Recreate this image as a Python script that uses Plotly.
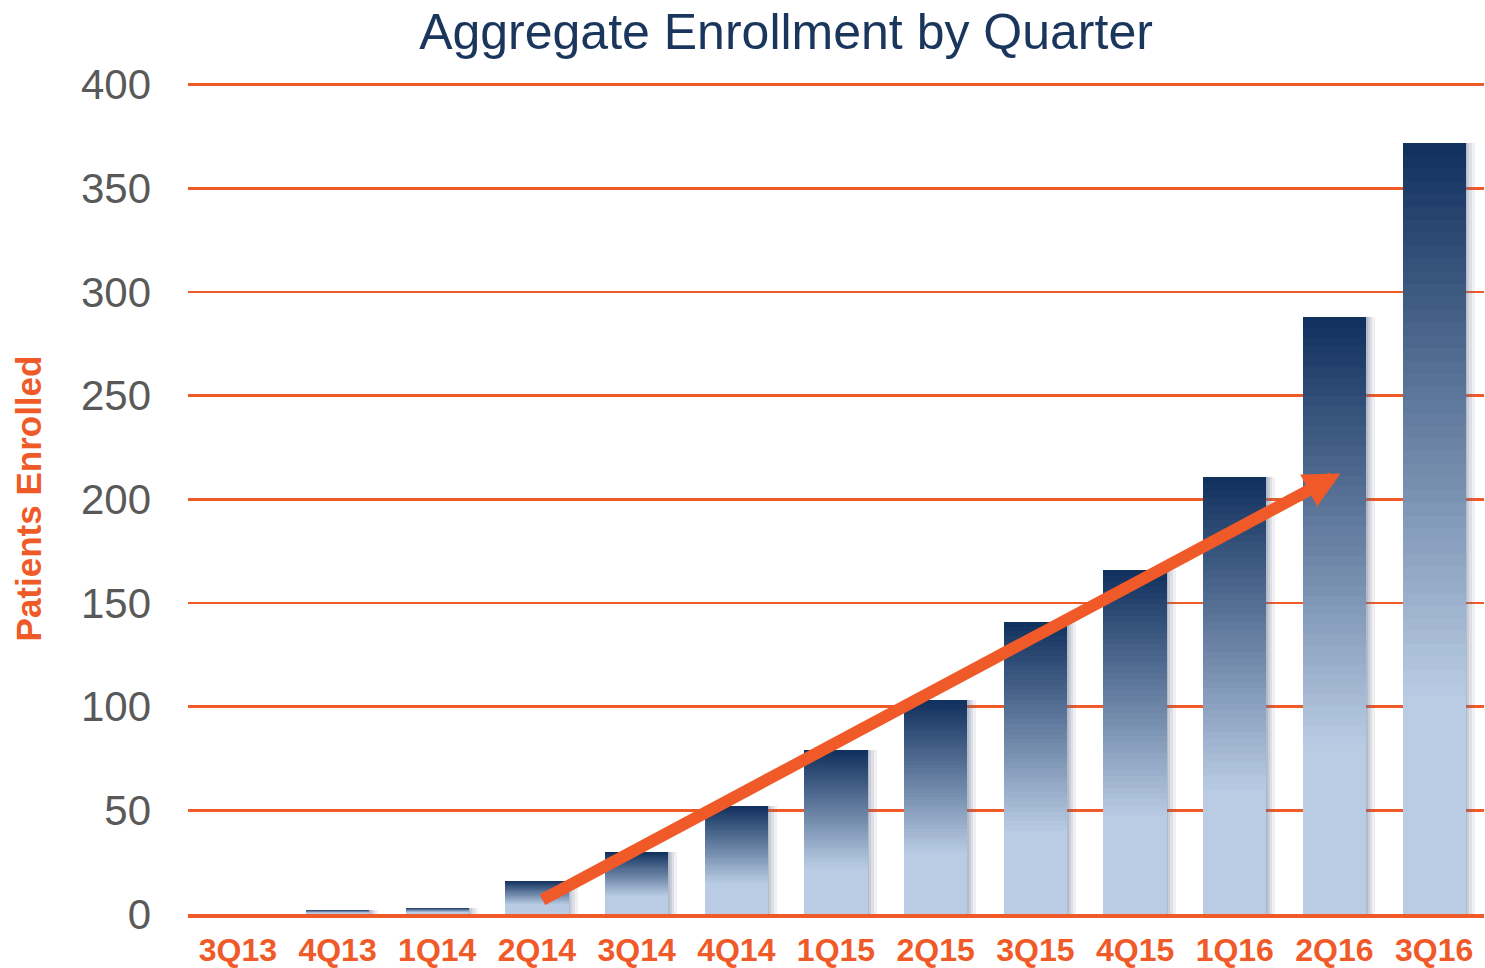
import plotly.graph_objects as go

# ---- data ----
quarters = ["3Q13", "4Q13", "1Q14", "2Q14", "3Q14", "4Q14", "1Q15",
            "2Q15", "3Q15", "4Q15", "1Q16", "2Q16", "3Q16"]
enrolled = [0, 2, 3, 16, 30, 52, 79, 103, 141, 166, 211, 288, 372]
y_ticks = [0, 50, 100, 150, 200, 250, 300, 350, 400]
title_text = "Aggregate Enrollment by Quarter"
y_title = "Patients Enrolled"
# trend arrow (category index, patients)
arrow_tail = (3.04, 6.5)
arrow_tip = (11.06, 212.5)

# ---- style ----
ORANGE = "#f05a28"
NAVY = "#1b365d"
DARK = (15, 47, 92)
LIGHT = (185, 204, 228)
FONT = "Arial, Liberation Sans, Helvetica, sans-serif"
BAR_W = 0.635
N_STEPS = 60


def grad_color(t):
    # t: 0 at bar bottom, 1 at bar top
    s = 0.0 if t < 0.28 else (t - 0.28) / 0.72
    s = min(max(s, 0.0), 1.0)
    c = [round(LIGHT[k] + (DARK[k] - LIGHT[k]) * s) for k in range(3)]
    return f"rgb({c[0]},{c[1]},{c[2]})"


fig = go.Figure()

# soft shadow to the right of each bar
for d, a in [(0.09, 0.10), (0.06, 0.12), (0.035, 0.16), (0.015, 0.2)]:
    fig.add_trace(go.Bar(
        x=quarters, y=enrolled, width=BAR_W, offset=-BAR_W / 2 + d,
        marker=dict(color=f"rgba(95,110,140,{a})", line=dict(width=0)),
        hoverinfo="skip", showlegend=False))

# vertical gradient bars: overlapping slices from each bar's fraction to its top
for i in range(N_STEPS):
    f = i / N_STEPS
    fig.add_trace(go.Bar(
        x=quarters,
        base=[v * f for v in enrolled],
        y=[v * (1 - f) for v in enrolled],
        width=BAR_W,
        marker=dict(color=grad_color((i + 0.5) / N_STEPS), line=dict(width=0)),
        hoverinfo="skip", showlegend=False))

fig.add_annotation(
    x=arrow_tip[0], y=arrow_tip[1], ax=arrow_tail[0], ay=arrow_tail[1],
    xref="x", yref="y", axref="x", ayref="y", text="",
    showarrow=True, arrowhead=2, arrowsize=0.6, arrowwidth=12,
    arrowcolor=ORANGE, standoff=0, startstandoff=0)

fig.update_layout(
    width=1485, height=968,
    margin=dict(l=188, r=1, t=83, b=54, autoexpand=False),
    paper_bgcolor="white", plot_bgcolor="white",
    barmode="overlay", bargap=0,
    showlegend=False,
    title=dict(text=title_text, x=786 / 1485, xanchor="center",
               xref="container", y=1 - 31 / 968, yanchor="middle",
               yref="container",
               font=dict(family=FONT, size=50, color=NAVY)),
    xaxis=dict(
        type="category", range=[-0.5, 12.5], showgrid=False,
        showline=True, linecolor=ORANGE, linewidth=4, ticks="",
        tickfont=dict(family=FONT, size=32, color=ORANGE, weight="bold"),
        ticklabelstandoff=5, automargin=False, fixedrange=True),
    yaxis=dict(
        range=[0, 400.8], tickvals=y_ticks, showgrid=True,
        gridcolor=ORANGE, gridwidth=2.5, zeroline=False, ticks="",
        tickfont=dict(family=FONT, size=42, color="#595959"),
        ticklabelstandoff=36, automargin=False,
        title=dict(text=y_title, standoff=28,
                   font=dict(family=FONT, size=35, color=ORANGE,
                             weight="bold")),
        fixedrange=True),
)

fig.write_html(
    "out.html",
    config={"displayModeBar": False, "staticPlot": True},
    post_script="document.body.style.margin='0';"
                "document.body.style.overflow='hidden';")
